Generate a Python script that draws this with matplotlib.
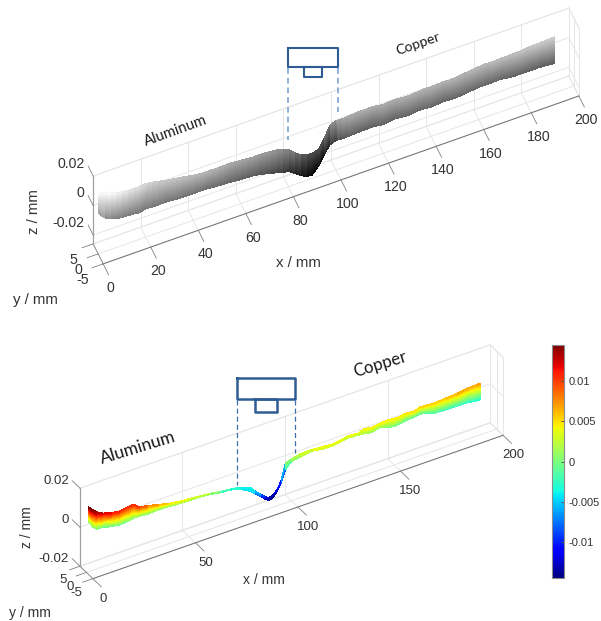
import matplotlib
matplotlib.use('Agg')
import matplotlib.pyplot as plt
import numpy as np
from matplotlib.cm import ScalarMappable
from matplotlib.colors import Normalize
from mpl_toolkits.mplot3d import proj3d

plt.rcParams['font.family'] = ['Liberation Sans', 'DejaVu Sans']

# grey surface: edge profiles of the ribbon and the grey level on those edges
x_grey = [0, 2.5, 5, 7.5, 10, 12.5, 15, 17.5, 20, 22.5, 25, 27.5, 30, 32.5, 35, 37.5, 40, 42.5, 45, 47.5, 50, 52.5,
          55, 57.5, 60, 62.5, 65, 67.5, 70, 72.5, 75, 77.5, 80, 82.5, 85, 87.5, 90, 92.5, 95, 97.5, 100, 102.5, 105,
          107.5, 110, 112.5, 115, 117.5, 120, 122.5, 125, 127.5, 130, 132.5, 135, 137.5, 140, 142.5, 145, 147.5,
          150, 152.5, 155, 157.5, 160, 162.5, 165, 167.5, 170, 172.5, 175, 177.5, 180, 182.5, 185, 187.5, 190, 192]
z_grey_upper = [.0148, .0147, .0127, .0112, .0105, .0097, .0097, .0097, .0103, .0097, .0089, .0080, .0073, .0066,
                .0060, .0053, .0046, .0040, .0037, .0039, .0037, .0038,
                .0040, .0036, .0033, .0030, .0026, .0026, .0026, .0021, .0017, .0007, -.0008, -.0042, -.0072, -.0086,
                -.0090, -.0080, -.0017, .0059, .0072, .0071, .0076, .0078,
                .0082, .0079, .0083, .0077, .0069, .0075, .0077, .0072, .0070, .0071, .0076, .0080, .0076, .0079,
                .0081, .0079, .0079,
                .0085, .0090, .0093, .0099, .0102, .0100, .0100, .0102, .0102, .0105, .0105, .0112, .0113, .0114,
                .0115, .0118, .0119]
z_grey_lower = [.0015, -.0028, -.0052, -.0063, -.0071, -.0072, -.0075, -.0080, -.0068, -.0071, -.0074, -.0070, -.0073,
                -.0076, -.0079, -.0078, -.0080, -.0079, -.0078, -.0082, -.0086, -.0090,
                -.0089, -.0095, -.0097, -.0099, -.0102, -.0107, -.0117, -.0127, -.0137, -.0152, -.0156, -.0183,
                -.0210, -.0236, -.0237, -.0195, -.0130, -.0075, -.0060, -.0064, -.0062, -.0060,
                -.0058, -.0058, -.0056, -.0060, -.0067, -.0059, -.0054, -.0060, -.0064, -.0060, -.0055, -.0057,
                -.0061, -.0058, -.0053, -.0057, -.0060,
                -.0055, -.0050, -.0047, -.0042, -.0041, -.0043, -.0040, -.0041, -.0048, -.0053, -.0051, -.0052,
                -.0052, -.0052, -.0055, -.0058, -.0060]
grey_upper = [.97, .97, .96, .93, .9, .87, .85, .83, .81, .79, .77, .76, .75, .74, .73, .72, .71, .7, .69, .68, .67, .66,
              .65, .64, .63, .62, .61, .6, .59, .57, .55, .52, .47, .4, .33, .29, .28, .3, .4, .53, .61, .64, .66, .66,
              .66, .66, .66, .66, .66, .66, .67, .67, .67, .67, .68, .68, .68, .68, .68, .69, .69,
              .69, .7, .7, .71, .71, .72, .72, .73, .73, .74, .75, .76, .77, .77, .78, .79, .8]
grey_lower = [.6, .53, .49, .48, .47, .46, .46, .45, .46, .45, .45, .44, .44, .44, .43, .43, .42, .42, .41, .41, .4, .39,
              .38, .37, .36, .35, .34, .32, .3, .28, .25, .21, .16, .12, .06, .02, 0, .05, .12, .24, .32, .34, .36, .36,
              .36, .36, .36, .37, .37, .37, .38, .38, .38, .38, .39, .39, .38, .38, .38, .38, .38,
              .39, .39, .39, .39, .38, .38, .38, .37, .37, .37, .36, .36, .36, .35, .35, .34, .34]

# jet surface: edge profiles and the colour values on those edges
x_jet = [1, 3, 5, 8, 12, 16, 20, 23, 26, 30, 35, 40, 45, 50, 55, 60, 65, 70, 75, 80, 82, 85, 87, 89, 91, 93, 95, 97,
         100, 104, 110, 115, 120, 125, 127.5, 130, 132.5, 135, 137.5, 140, 142.5, 145, 147.5, 150, 152.5, 155, 157.5,
         160, 162.5, 165, 170, 175, 180, 185, 190, 192]
z_jet_upper = [.0133, .0112, .0092, .0075, .0062, .0055, .0063, .0066, .0041, .0033, .0020, .0007, -.0001, -.0006,
               -.0011, -.0015, -.0025, -.0030, -.0038, -.0058, -.0082, -.0112, -.0130, -.0144, -.0137, -.0116,
               -.0075, .0006, .0014, .0025, .0027, .0022, .0018,
               .0025, .0033, .0031, .0027, .0039, .0037, .0032, .0038, .0041, .0042, .0038, .0037, .0045, .0043,
               .0040, .0051, .0049, .0046, .0050, .0053, .0062, .0065, .0065]
z_jet_lower = [.0056, .0023, .0003, .0001, -.0010, -.0016, -.0014, -.0008, -.0007, -.0011, -.0009, -.0010, -.0015,
               -.0016, -.0017, -.0022, -.0032, -.0035, -.0050, -.0078, -.0096, -.0124, -.0143, -.0159, -.0151,
               -.0128, -.0092, -.0031, .0001, .0008, .0017, .0009, .0006,
               .0016, .0019, .0018, .0016, .0014, .0008, .0008, .0016, .0012, .0001, -.0003, .0001, .0004, .0008,
               .0008, .0012, .0010, -.0008, -.0011, -.0011, -.0012, -.0020, -.0021]
level_upper = [.0145, .014, .013, .012, .011, .0105, .0105, .0105, .009, .0075, .006, .0045, .004, .003, .0025, .0005,
               -.002, -.003, -.004, -.004, -.006, -.009, -.012, -.0135, -.0125, -.0105, -.006, .0005, .002, .003,
               .004, .004, .004,
               .0035, .004, .004, .0035, .0045, .0045, .004, .0045, .0045, .0045, .0045, .0045, .005, .005, .005,
               .0055, .0055, .0055, .006, .0065, .0065, .007, .0075]
level_lower = [0, -.0005, -.001, -.0015, -.001, -.001, -.0005, 0, 0, 0, 0, .0005, .001, .001, .0005, -.0005, -.002,
               -.003, -.0045, -.005, -.0085, -.0115, -.014, -.0145, -.0145, -.013, -.009, -.0025, 0, .002, .003,
               .0025, .0025,
               .002, .002, .0015, .0015, .001, .0005, .0005, .0005, 0, -.0005, -.001, -.001, -.0015, -.0015, -.002,
               -.002, -.002, -.0025, -.003, -.003, -.0035, -.004, -.0045]

x_ticks_grey = [0, 20, 40, 60, 80, 100, 120, 140, 160, 180, 200]
x_ticks_jet = [0, 50, 100, 150, 200]
y_ticks = [-5, 0, 5]
z_ticks = [-0.02, 0, 0.02]
z_labels = ['-0.02', '0', '0.02']
cbar_ticks = [-0.01, -0.005, 0, 0.005, 0.01]
cbar_labels = ['-0.01', '-0.005', '0', '0.005', '0.01']
cbar_max = 0.01456

W, H = 601, 621
TEXT = '#333333'
fig = plt.figure(figsize=(W / 100, H / 100), dpi=100)


def box_axes(center, box, elev, azim, zlim):
    # 3d axes sized so that one unit of box aspect comes out as one pixel
    side = 0.9708 * np.linalg.norm(box)
    left = center[0] - 0.5135 * side
    bottom = H - center[1] - 0.5135 * side
    ax = fig.add_axes([left / W, bottom / H, side / W, side / H], projection='3d', proj_type='ortho')
    ax.set_box_aspect(box)
    ax.view_init(elev=elev, azim=azim, roll=0)
    ax.set_xlim(0, 200)
    ax.set_ylim(-5, 5)
    ax.set_zlim(*zlim)
    ax.set_xticks([])
    ax.set_yticks([])
    ax.set_zticks([])
    ax.set_axis_off()
    ax.patch.set_alpha(0)
    ax.computed_zorder = False
    return ax


def label(ax, x, y, z, s, ha, fs):
    # tick labels go in as 2d text at the projected spot
    px, py, _ = proj3d.proj_transform(x, y, z, ax.get_proj())
    ax.text2D(px, py, s, transform=ax.transData, ha=ha, va='center', fontsize=fs, color=TEXT)


def walls(ax, xticks, zlim, tick_len, lab_x, lab_y, lab_z, fs):
    zmin, zmax = zlim
    grid = dict(color='#e6e6e6', lw=0.7, zorder=1)
    dark = dict(color='#808080', lw=0.6, zorder=2)
    for xt in xticks:
        ax.plot([xt, xt], [5, 5], [zmin, zmax], **grid)
        ax.plot([xt, xt], [-5, 5], [zmin, zmin], **grid)
    for zt in list(z_ticks) + [zmin, zmax]:
        ax.plot([0, 200], [5, 5], [zt, zt], **grid)
        ax.plot([200, 200], [-5, 5], [zt, zt], **grid)
    for yt in y_ticks:
        ax.plot([0, 200], [yt, yt], [zmin, zmin], **grid)
        ax.plot([200, 200], [yt, yt], [zmin, zmax], **grid)
    # axis lines and ticks
    ax.plot([0, 200], [-5, -5], [zmin, zmin], color='#6e6e6e', lw=0.7, zorder=2)
    ax.plot([0, 0], [-5, 5], [zmin, zmin], **dark)
    ax.plot([0, 0], [5, 5], [zmin, zmax], color='#a0a0a0', lw=0.9, zorder=2)
    for xt in xticks:
        ax.plot([xt, xt], [-5, -5 - tick_len[0]], [zmin, zmin], **dark)
        label(ax, xt, lab_x[0], zmin + lab_x[1], str(xt), 'center', fs)
    for yt in y_ticks:
        ax.plot([0, -tick_len[1]], [yt, yt], [zmin, zmin], **dark)
        label(ax, lab_y[0], yt, zmin + lab_y[1], str(yt), 'center', fs)
    for zt, lab in zip(z_ticks, z_labels):
        ax.plot([0, 0], [5, 5 + tick_len[2]], [zt, zt], **dark)
        label(ax, lab_z[0], lab_z[1], zt, lab, 'right', fs)


def ribbon(ax, xs, upper, lower, c_upper, c_lower, cmap, norm):
    # the edges are joined across the width so the colour runs smoothly, like shading interp
    t = np.linspace(0, 1, 17)[:, None]
    X = np.tile(np.asarray(xs, dtype=float), (17, 1))
    Y = np.zeros_like(X)
    Z = np.asarray(upper) + t * (np.asarray(lower) - np.asarray(upper))
    C = np.asarray(c_upper) + t * (np.asarray(c_lower) - np.asarray(c_upper))
    ax.plot_surface(X, Y, Z, facecolors=plt.get_cmap(cmap)(norm(C)), rstride=1, cstride=1, shade=False,
                    linewidth=0, antialiased=False, zorder=5)


# upper chart
zlim_grey = (-0.026, 0.02)
ax1 = box_axes((336, 136), (516, 25.8, 125), 57.1, -112.8, zlim_grey)
walls(ax1, x_ticks_grey, zlim_grey, (5.5, 4.6, 5), (-12, -0.0068), (-8.4, -0.0061), (-1, 11.5), 10.2)
ribbon(ax1, x_grey, z_grey_upper, z_grey_lower, grey_upper, grey_lower, 'gray', Normalize(0, 1))

# lower chart
zlim_jet = (-0.02, 0.02)
ax2 = box_axes((291.5, 461.75), (479, 25.1, 95.7), 35.4, -121.1, zlim_jet)
walls(ax2, x_ticks_jet, zlim_jet, (6.5, 5, 5.9), (-12.7, -0.0053), (-8, -0.0043), (-1.2, 11.5), 9.5)
jet_norm = Normalize(-cbar_max, cbar_max)
ribbon(ax2, x_jet, z_jet_upper, z_jet_lower, level_upper, level_lower, 'jet', jet_norm)

# colour bar
cax = fig.add_axes([552 / W, 1 - 578 / H, 12 / W, 233 / H])
cb = fig.colorbar(ScalarMappable(jet_norm, 'jet'), cax=cax)
cb.set_ticks(cbar_ticks, labels=cbar_labels)
cb.ax.tick_params(direction='in', length=2, width=0.7, color='#555555', labelcolor=TEXT, labelsize=8, pad=3.5)
cb.outline.set_edgecolor('#8c8c8c')
cb.outline.set_linewidth(0.8)

# pixel overlay for axis titles, material names and the tool sketch
over = fig.add_axes([0, 0, 1, 1], zorder=10)
over.set_xlim(0, W)
over.set_ylim(H, 0)
over.axis('off')
for tx, ty, lab, rot, fs in [(298, 263, 'x / mm', 0, 10.8), (35, 300, 'y / mm', 0, 10.8), (34, 212, 'z / mm', 90, 10.8),
                             (264, 580, 'x / mm', 0, 10), (30, 613, 'y / mm', 0, 10), (27, 527, 'z / mm', 90, 10)]:
    over.text(tx, ty, lab, rotation=rot, ha='center', va='center', fontsize=fs, color=TEXT)
for tx, ty, lab, rot, fs in [(176, 131, 'Aluminum', 20, 10.6), (418, 44, 'Copper', 19, 10.2),
                             (138, 448, 'Aluminum', 17, 12.6), (380, 364, 'Copper', 17, 12.2)]:
    over.text(tx, ty, lab, rotation=rot, rotation_mode='anchor', ha='center', va='center', fontsize=fs,
              family='Lato', color='#1a1a1a')
BLUE = '#2f5c94'
for bx0, bx1, by0, by1, lw in [(288, 338, 48, 67, 1.5), (304, 322, 67, 77, 1.5), (237, 295, 378, 399, 1.8),
                               (255, 277, 399, 412, 1.8)]:
    over.plot([bx0, bx1, bx1, bx0, bx0], [by0, by0, by1, by1, by0], color=BLUE, lw=lw)
over.plot([288, 288], [68, 140], color='#8fb0dc', lw=1.4, ls=(0, (3, 2)))
over.plot([338, 338], [68, 112], color='#8fb0dc', lw=1.4, ls=(0, (3, 2)))
over.plot([237, 237], [400, 485], color='#3c6eab', lw=0.9, ls=(0, (4, 2.5)))
over.plot([295, 295], [400, 453], color='#3c6eab', lw=0.9, ls=(0, (4, 2.5)))

fig.savefig('out.png', dpi=100)
